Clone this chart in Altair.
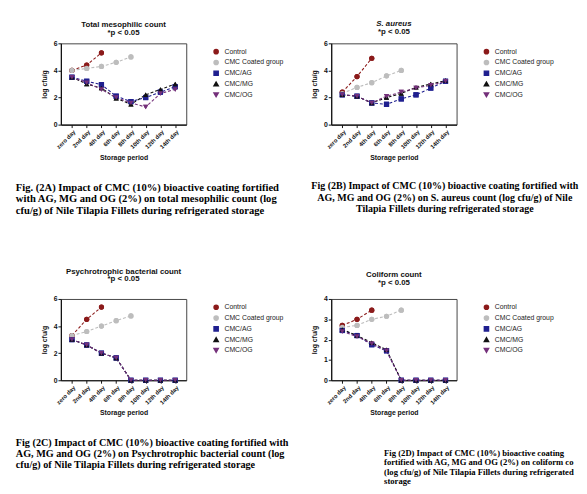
import altair as alt
import pandas as pd

days = ["zero day", "2nd day", "4th day", "6th day", "8th day", "10th day", "12th day", "14th day"]
groups = ["Control", "CMC Coated group", "CMC/AG", "CMC/MG", "CMC/OG"]
colors = ["#8b1a1a", "#bdbdbd", "#1f1f8f", "#111111", "#74307a"]
shapes = ["circle", "circle", "square", "triangle-up", "triangle-down"]

# Panel A: total mesophilic count
a_control = [4.0, 4.4, 5.3]
a_coated = [4.0, 4.15, 4.3, 4.6, 5.0]
a_ag = [3.5, 3.2, 2.95, 2.1, 1.7, 2.0, 2.4, 2.8]
a_mg = [3.5, 3.0, 2.7, 1.95, 1.5, 2.2, 2.6, 3.0]
a_og = [3.5, 3.1, 2.6, 2.0, 1.6, 1.3, 2.3, 2.6]

# Panel B: S. aureus
b_control = [2.4, 3.55, 4.9]
b_coated = [2.3, 2.75, 3.1, 3.6, 4.0]
b_ag = [2.2, 2.1, 1.6, 1.5, 1.9, 2.2, 2.7, 3.2]
b_mg = [2.2, 2.1, 1.6, 2.0, 2.3, 2.75, 3.0, 3.25]
b_og = [2.2, 2.1, 1.6, 2.1, 2.4, 2.7, 2.9, 3.2]

# Panel C: psychrotrophic bacterial count
c_control = [3.3, 4.5, 5.4]
c_coated = [3.3, 3.6, 4.0, 4.4, 4.75]
c_ag = [3.0, 2.6, 2.0, 1.65, 0, 0, 0, 0]
c_mg = [3.0, 2.6, 2.0, 1.65, 0, 0, 0, 0]
c_og = [3.0, 2.6, 2.0, 1.65, 0, 0, 0, 0]

# Panel D: coliform count
d_control = [2.7, 3.0, 3.45]
d_coated = [2.6, 2.7, 3.0, 3.15, 3.45]
d_ag = [2.45, 2.2, 1.75, 1.45, 0, 0, 0, 0]
d_mg = [2.5, 2.2, 1.85, 1.5, 0, 0, 0, 0]
d_og = [2.4, 2.15, 1.8, 1.45, 0, 0, 0, 0]

titles = ["Total mesophilic count", "S. aureus", "Psychrotrophic bacterial count", "Coliform count"]
subtitle = "*p < 0.05"

captions = [
    "Fig. (2A) Impact of CMC (10%) bioactive coating fortified\nwith AG, MG and OG (2%) on total mesophilic count (log\ncfu/g) of Nile Tilapia Fillets during refrigerated storage",
    "Fig (2B) Impact of CMC (10%) bioactive coating fortified with\nAG, MG and OG (2%) on S. aureus count (log cfu/g) of Nile\nTilapia Fillets during refrigerated storage",
    "Fig (2C) Impact of CMC (10%) bioactive coating fortified with\nAG, MG and OG (2%) on Psychrotrophic bacterial count (log\ncfu/g) of Nile Tilapia Fillets during refrigerated storage",
    "Fig (2D) Impact of CMC (10%) bioactive coating\nfortified with AG, MG and OG (2%) on coliform count\n(log cfu/g) of Nile Tilapia Fillets during refrigerated\nstorage",
]

SANS = "Liberation Sans"
SERIF = "Liberation Serif"


def panel(series, title, italic, ymax, yvals, caption, cap_x, cap_y, cap_align,
          cap_size, cap_lh, cap_limit, toff):
    rows = []
    for g, vals in zip(groups, series):
        for d, v in zip(days, vals):
            rows.append({"day": d, "group": g, "value": v})
    df = pd.DataFrame(rows)

    x = alt.X(
        "day:N",
        sort=days,
        scale=alt.Scale(type="point", padding=0.75),
        axis=alt.Axis(
            title="Storage period", labelAngle=-45, labelFont=SANS, labelFontSize=6,
            labelFontWeight="bold", labelColor="#111", titleFont=SANS, titleFontSize=7,
            titleFontWeight="bold", titleColor="#111", titlePadding=4, tickSize=3,
            domainColor="#111", tickColor="#111", domainWidth=1.2, labelPadding=1,
        ),
    )
    y = alt.Y(
        "value:Q",
        scale=alt.Scale(domain=[0, ymax], nice=False, zero=True),
        axis=alt.Axis(
            title="log cfu/g", values=yvals, grid=False, labelFont=SANS, labelFontSize=7,
            labelFontWeight="bold", labelColor="#111", titleFont=SANS, titleFontSize=7,
            titleFontWeight="bold", titleColor="#111", titlePadding=6, tickSize=3,
            domainColor="#111", tickColor="#111", domainWidth=1.2, labelPadding=1,
        ),
    )
    cscale = alt.Scale(domain=groups, range=colors)
    sscale = alt.Scale(domain=groups, range=shapes)
    legend = alt.Legend(
        title=None, orient="right", offset=22, padding=5, labelFont=SANS,
        labelFontSize=7, labelColor="#222", symbolSize=18, rowPadding=0,
        labelOffset=5, symbolType="circle",
    )
    base = alt.Chart(df)
    pts = base.mark_point(filled=True, size=28, opacity=1).encode(
        x=x, y=y,
        color=alt.Color("group:N", scale=cscale, legend=legend),
        shape=alt.Shape("group:N", scale=sscale, legend=legend),
    )
    lines = base.mark_line(strokeDash=[3, 2], strokeWidth=1.1).encode(
        x=x, y=y,
        color=alt.Color("group:N", scale=cscale, legend=legend),
        detail="group:N",
    )
    cap = alt.Chart(pd.DataFrame({"t": [caption]})).mark_text(
        align=cap_align, baseline="top", lineBreak="\n", font=SERIF, fontWeight="bold",
        fontSize=cap_size, lineHeight=cap_lh, color="#000", limit=cap_limit,
        ellipsis="\u200b",
    ).encode(x=alt.value(cap_x), y=alt.value(cap_y), text="t:N")

    return alt.layer(pts, lines, pts, cap).properties(
        width=128, height=83,
        title=alt.TitleParams(
            text=title, subtitle=subtitle, font=SANS, fontSize=8, fontWeight="bold",
            fontStyle="italic" if italic else "normal", color="#111", lineHeight=9,
            subtitleFont=SANS, subtitleFontSize=8, subtitleFontWeight="bold",
            subtitleColor="#111", subtitlePadding=0, subtitleLineHeight=9,
            offset=toff, anchor="middle",
        ),
    )


pA = panel([a_control, a_coated, a_ag, a_mg, a_og], titles[0], False, 6, [0, 2, 4, 6],
           captions[0], -46, 142, "left", 10.8, 11.5, 300, 3)
pB = panel([b_control, b_coated, b_ag, b_mg, b_og], titles[1], True, 6, [0, 2, 4, 6],
           captions[1], 116, 141, "center", 10.2, 11.5, 300, 4)
pC = panel([c_control, c_coated, c_ag, c_mg, c_og], titles[2], False, 6, [0, 2, 4, 6],
           captions[2], -46, 142, "left", 10.4, 11.5, 300, 12)
pD = panel([d_control, d_coated, d_ag, d_mg, d_og], titles[3], False, 4, [0, 1, 2, 3, 4],
           captions[3], 54, 153, "left", 8.8, 9.8, 194, 8)

chart = alt.concat(pA, pB, pC, pD, columns=2, spacing={"row": 51, "column": 20}).resolve_scale(
    color="independent", shape="independent"
).resolve_legend(color="independent", shape="independent").properties(
    padding={"left": 7, "top": 6, "right": 0, "bottom": 0},
    background="white",
).configure_view(stroke="#444", strokeWidth=1)

chart.save("out.html", embed_options={"renderer": "svg", "actions": False})
